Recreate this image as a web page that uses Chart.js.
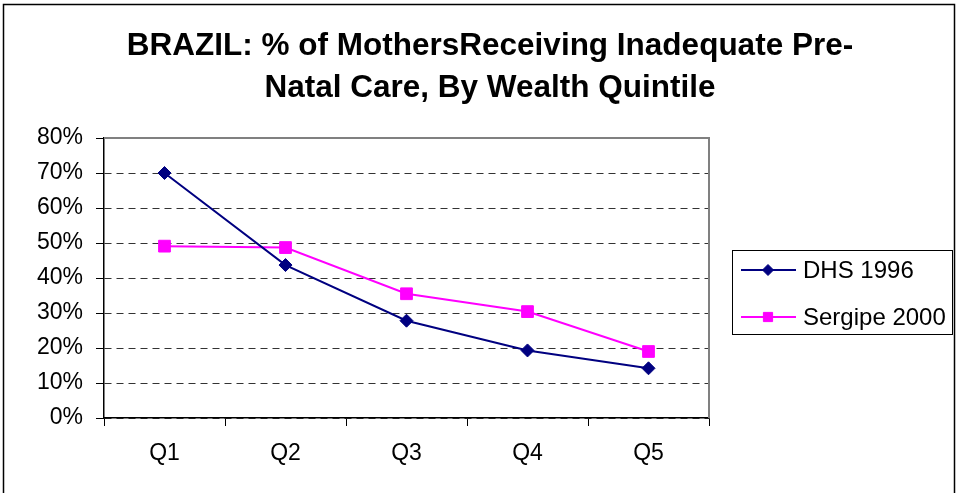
<!DOCTYPE html>
<html>
<head>
<meta charset="utf-8">
<script src="https://cdn.jsdelivr.net/npm/chart.js"></script>
<style>
  body { margin: 0; background: #fff; }
  #wrap { width: 956px; height: 493px; }
</style>
</head>
<body>
<div id="wrap"><canvas id="chart" width="956" height="493"></canvas></div>
<script>
const quintiles = ["Q1", "Q2", "Q3", "Q4", "Q5"];
const dhs1996 = [0.70, 0.437, 0.278, 0.193, 0.142];
const sergipe2000 = [0.491, 0.487, 0.355, 0.304, 0.19];
const yTicks = [0, 0.1, 0.2, 0.3, 0.4, 0.5, 0.6, 0.7, 0.8];

const FONT = "'Liberation Sans', Arial, sans-serif";

// frame around the whole chart, plot area border, legend box
const decor = {
  id: "decor",
  afterLayout(chart) {
    // centre the title on the whole chart, not just the plot
    const t = chart.titleBlock;
    if (t) { t.left = 24; t.right = 956; t.width = 932; }
  },
  beforeDraw(chart) {
    const ctx = chart.ctx;
    ctx.save();
    ctx.fillStyle = "#fff";
    ctx.fillRect(0, 0, chart.width, chart.height);
    ctx.strokeStyle = "#000";
    ctx.lineWidth = 1.5;
    ctx.strokeRect(3.5, 4.5, 951, 500);
    ctx.restore();
  },
  afterDraw(chart) {
    const ctx = chart.ctx;
    const a = chart.chartArea;
    ctx.save();
    ctx.strokeStyle = "#808080";
    ctx.lineWidth = 2;
    ctx.beginPath();
    ctx.moveTo(a.left, a.top);
    ctx.lineTo(a.right, a.top);
    ctx.lineTo(a.right, a.bottom);
    ctx.stroke();

    // legend
    ctx.strokeStyle = "#000";
    ctx.lineWidth = 1;
    ctx.strokeRect(732.5, 250.5, 220, 84);
    const rows = [270, 317];
    const sizes = [5.5, 6.5];
    chart.data.datasets.forEach((ds, i) => {
      const y = rows[i];
      ctx.strokeStyle = ds.borderColor;
      ctx.lineWidth = 2;
      ctx.beginPath();
      ctx.moveTo(741, y);
      ctx.lineTo(796, y);
      ctx.stroke();
      ctx.fillStyle = ds.borderColor;
      ctx.lineWidth = 1;
      Chart.helpers.drawPoint(ctx, {pointStyle: ds.pointStyle, rotation: 0, borderWidth: 1, radius: sizes[i]}, 768, y);
      ctx.fillStyle = "#000";
      ctx.font = "24px " + FONT;
      ctx.textBaseline = "middle";
      ctx.textAlign = "left";
      ctx.fillText(ds.label, 803, y + 1);
    });
    ctx.restore();
  }
};

new Chart(document.getElementById("chart"), {
  type: "line",
  data: {
    labels: quintiles,
    datasets: [
      {
        label: "DHS 1996",
        data: dhs1996,
        borderColor: "#000080",
        backgroundColor: "#000080",
        borderWidth: 2,
        pointStyle: "rectRot",
        pointRadius: 6.5,
        pointBorderWidth: 1,
        tension: 0
      },
      {
        label: "Sergipe 2000",
        data: sergipe2000,
        borderColor: "#FF00FF",
        backgroundColor: "#FF00FF",
        borderWidth: 2,
        pointStyle: "rect",
        pointRadius: 8.3,
        pointBorderWidth: 1,
        tension: 0
      }
    ]
  },
  options: {
    responsive: false,
    animation: false,
    layout: { padding: { top: 4, left: 4, right: 247, bottom: 0 } },
    plugins: {
      legend: { display: false },
      tooltip: { enabled: false },
      title: {
        display: true,
        text: ["BRAZIL: % of MothersReceiving Inadequate Pre-", "Natal Care, By Wealth Quintile"],
        color: "#000",
        font: { family: FONT, size: 31.5, weight: "bold", lineHeight: 42 / 31.5 },
        padding: { top: 21, bottom: 29 }
      }
    },
    scales: {
      x: {
        offset: true,
        grid: {
          offset: true,
          drawOnChartArea: false,
          drawTicks: true,
          tickLength: 8,
          color: "#000"
        },
        border: { display: true, color: "#000", width: 1.5 },
        ticks: {
          color: "#000",
          padding: 14,
          font: { family: FONT, size: 23 }
        },
        afterFit(scale) { scale.height = 75; }
      },
      y: {
        min: 0,
        max: 0.8,
        afterBuildTicks(scale) { scale.ticks = yTicks.map(v => ({ value: v })); },
        grid: {
          color: "#333",
          lineWidth: 1,
          drawTicks: true,
          tickLength: 8,
          tickColor: "#000"
        },
        border: { display: true, color: "#000", width: 1.5, dash: [7, 5] },
        ticks: {
          color: "#000",
          padding: 13,
          font: { family: FONT, size: 23 },
          callback: v => Math.round(v * 100) + "%"
        },
        afterFit(scale) { scale.width = 100; }
      }
    }
  },
  plugins: [decor]
});
</script>
</body>
</html>
